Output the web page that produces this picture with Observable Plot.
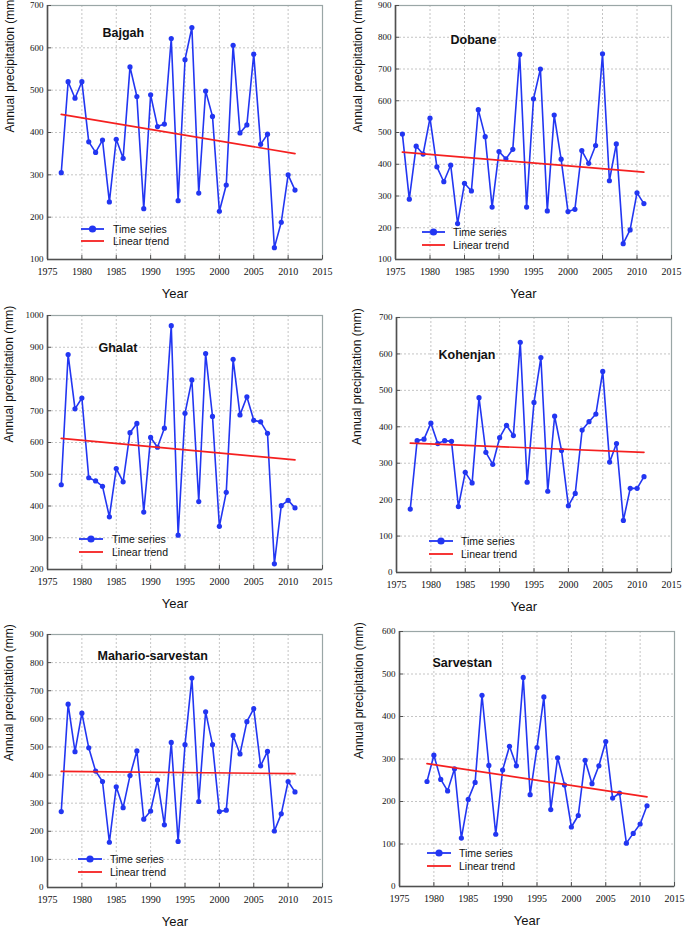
<!DOCTYPE html>
<html><head><meta charset="utf-8">
<script src="https://cdn.jsdelivr.net/npm/d3@7"></script>
<script src="https://cdn.jsdelivr.net/npm/@observablehq/plot@0.6"></script>
<style>
body{margin:0;background:#fff}
#page{position:relative;width:685px;height:928px;overflow:hidden;background:#fff}
.panel{position:absolute}
.panel svg{display:block;overflow:visible}
.legend{position:absolute;left:0;top:0;pointer-events:none}
</style>
</head><body><div id="page"></div>
<script>
// ---------- data ----------
const years1976 = [1976,1977,1978,1979,1980,1981,1982,1983,1984,1985,1986,1987,1988,1989,1990,1991,1992,1993,1994,1995,1996,1997,1998,1999,2000,2001,2002,2003,2004,2005,2006,2007,2008,2009,2010,2011];
const years1977 = [1977,1978,1979,1980,1981,1982,1983,1984,1985,1986,1987,1988,1989,1990,1991,1992,1993,1994,1995,1996,1997,1998,1999,2000,2001,2002,2003,2004,2005,2006,2007,2008,2009,2010,2011];
const years1979 = [1979,1980,1981,1982,1983,1984,1985,1986,1987,1988,1989,1990,1991,1992,1993,1994,1995,1996,1997,1998,1999,2000,2001,2002,2003,2004,2005,2006,2007,2008,2009,2010,2011];

const bajgah    = [305,520,481,520,378,353,382,236,384,339,555,485,220,489,414,420,622,239,572,648,257,498,438,214,276,606,399,418,585,372,396,128,188,300,264];
const dobane    = [495,290,457,432,545,392,345,397,213,340,316,572,487,265,440,417,447,746,265,606,700,253,555,416,251,258,443,403,459,748,348,464,150,193,310,276];
const ghalat    = [467,877,706,740,489,479,462,366,518,476,631,660,381,616,585,645,968,308,692,797,414,880,682,336,443,862,687,744,670,665,629,218,401,418,394];
const kohenjan  = [174,362,366,410,354,362,360,181,275,246,480,330,297,370,404,376,632,248,467,590,223,429,335,183,217,391,414,435,552,303,354,143,231,231,263];
const mahario   = [270,652,483,620,497,414,377,161,358,284,398,486,243,272,382,223,516,164,508,745,306,625,508,270,275,541,475,590,636,433,484,201,262,377,340];
const sarvestan = [247,309,252,225,277,114,205,245,450,285,123,274,330,284,492,216,327,446,181,303,239,140,167,297,242,284,341,208,220,102,125,147,190];

const stationNames = ["Bajgah","Dobane","Ghalat","Kohenjan","Mahario-sarvestan","Sarvestan"];
const stationYears = [years1977, years1976, years1977, years1977, years1977, years1979];
const stationValues = [bajgah, dobane, ghalat, kohenjan, mahario, sarvestan];
// linear trend values at first and last year
const trendStart = [443, 438, 613, 355, 413, 289];
const trendEnd   = [350, 375, 545, 330, 405, 211];
const yDomains = [[100,700],[100,900],[200,1000],[0,700],[0,900],[0,600]];
const xDomain = [1975, 2015];
const xTicks = [1975,1980,1985,1990,1995,2000,2005,2010,2015];
const legendLabels = ["Time series", "Linear trend"];
const xLabel = "Year";
const yLabel = "Annual precipitation (mm)";

// ---------- layout (page px) ----------
// cell: [x, y, w, h]; frame: [left, right, top, bottom]
const layout = [
  {cell:[0,0,342,305],   frame:[47,322,5,259],   title:[55,31], leg:[34,57,30,18,66], ylab:-37},
  {cell:[342,0,343,305], frame:[395,671,5,259],  title:[55,38], leg:[27,50,27,14,58], ylab:-37},
  {cell:[0,305,342,308], frame:[47,322,315,569], title:[51,36], leg:[32,56,30,17,65], ylab:-38},
  {cell:[342,305,343,308], frame:[396,671,317,572], title:[42,41], leg:[33,57,31,18,65], ylab:-39},
  {cell:[0,613,342,315], frame:[47,322,634,887], title:[50,25], leg:[31,55,28,15,63], ylab:-38},
  {cell:[342,613,343,315], frame:[399,674,631,886], title:[33,35], leg:[28,52,33,20,60], ylab:-40}
];

const BLUE = "#2236f2";
const RED = "#f52020";
const SANS = "'Liberation Sans', Arial, sans-serif";
const SERIF = "'Liberation Serif', 'DejaVu Serif', serif";

const page = document.getElementById("page");

stationNames.forEach((name, i) => {
  const L = layout[i];
  const [ox, oy, w, h] = L.cell;
  const [fl, fr, ft, fb] = L.frame;
  const yd = yDomains[i];
  const yTicks = d3.range(yd[0], yd[1] + 1, 100);
  const rows = stationYears[i].map((yr, j) => ({year: yr, value: stationValues[i][j]}));
  const yrs = stationYears[i];
  const trendRows = [{year: yrs[0], value: trendStart[i]}, {year: yrs[yrs.length-1], value: trendEnd[i]}];

  const chart = Plot.plot({
    width: w, height: h,
    marginLeft: fl - ox, marginRight: ox + w - fr,
    marginTop: ft - oy, marginBottom: oy + h - fb,
    style: {fontSize: "9px", color: "#111", background: "transparent", overflow: "visible"},
    x: {domain: xDomain},
    y: {domain: yd},
    marks: [
      Plot.gridX(xTicks, {stroke: "#c4c4c4", strokeOpacity: 1, strokeDasharray: "2,2"}),
      Plot.gridY(yTicks, {stroke: "#c4c4c4", strokeOpacity: 1, strokeDasharray: "2,2"}),
      Plot.frame({stroke: "#9aa6a6", strokeWidth: 1.2}),
      Plot.ruleX([xDomain[0]], {stroke: "#505050", strokeWidth: 1.6}),
      Plot.ruleY([yd[0]], {stroke: "#505050", strokeWidth: 1.6}),
      Plot.axisX(xTicks, {tickSize: -4, tickPadding: 12, label: null, tickFormat: d => String(d), stroke: "#505050", fill: "#111", fontSize: 10}),
      Plot.axisY(yTicks, {tickSize: -4, tickPadding: 8, label: null, tickFormat: d => String(d), stroke: "#505050", fill: "#111", fontSize: 9}),
      Plot.line(rows, {x: "year", y: "value", stroke: BLUE, strokeWidth: 1.6}),
      Plot.dot(rows, {x: "year", y: "value", fill: BLUE, r: 2.6}),
      Plot.line(trendRows, {x: "year", y: "value", stroke: RED, strokeWidth: 1.7}),
      Plot.text([name], {frameAnchor: "top-left", dx: L.title[0], dy: L.title[1], textAnchor: "start", lineAnchor: "bottom", fontWeight: "bold", fontSize: 12.5, fill: "#111"}),
      Plot.text([xLabel], {frameAnchor: "bottom", dx: -10, dy: 34, lineAnchor: "middle", fontSize: 13, fill: "#111"}),
      Plot.text([yLabel], {frameAnchor: "left", dx: L.ylab, rotate: -90, lineAnchor: "middle", fontSize: 12, fill: "#111"})
    ]
  });

  // fonts: serif numerals for tick labels, sans for titles and labels
  d3.select(chart).selectAll("text").each(function () {
    const t = this.textContent.trim();
    this.style.fontFamily = /^\d+$/.test(t) ? SERIF : SANS;
    this.style.fontVariant = "normal";
  });

  const div = document.createElement("div");
  div.className = "panel";
  div.style.left = ox + "px";
  div.style.top = oy + "px";
  div.style.width = w + "px";
  div.style.height = h + "px";
  div.appendChild(chart);

  // legend overlay
  const [lx0, lx1, lyA, lyB, ltx] = L.leg;
  const bx = fl - ox, by = fb - oy;
  const svg = d3.create("svg").attr("class", "legend").attr("width", w).attr("height", h)
    .style("font-family", SANS).style("font-size", "10.5px");
  svg.append("line").attr("x1", bx + lx0).attr("x2", bx + lx1).attr("y1", by - lyA).attr("y2", by - lyA)
    .attr("stroke", BLUE).attr("stroke-width", 1.8);
  svg.append("circle").attr("cx", bx + (lx0 + lx1) / 2).attr("cy", by - lyA).attr("r", 3.6).attr("fill", BLUE);
  svg.append("text").attr("x", bx + ltx).attr("y", by - lyA).attr("dy", "0.35em").attr("fill", "#111").text(legendLabels[0]);
  svg.append("line").attr("x1", bx + lx0).attr("x2", bx + lx1).attr("y1", by - lyB).attr("y2", by - lyB)
    .attr("stroke", RED).attr("stroke-width", 1.8);
  svg.append("text").attr("x", bx + ltx).attr("y", by - lyB).attr("dy", "0.35em").attr("fill", "#111").text(legendLabels[1]);
  div.appendChild(svg.node());

  page.appendChild(div);
});
</script>
</body></html>
